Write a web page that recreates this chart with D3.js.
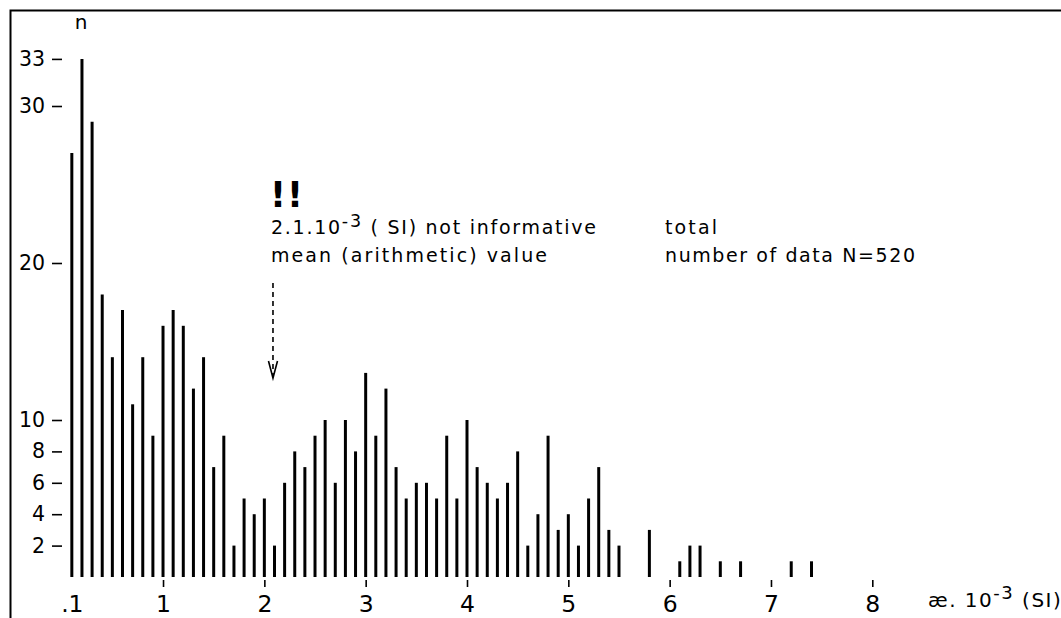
<!DOCTYPE html>
<html><head><meta charset="utf-8">
<script src="https://cdn.jsdelivr.net/npm/d3@7"></script>
<style>
html,body{margin:0;padding:0;background:#fff;}
svg{display:block;font-family:"DejaVu Sans",sans-serif;}
</style></head>
<body><svg id="c" width="1061" height="618"></svg>
<script>
// ---- data ----
const bins = [0.1,0.2,0.3,0.4,0.5,0.6,0.7,0.8,0.9,1.0,
              1.1,1.2,1.3,1.4,1.5,1.6,1.7,1.8,1.9,2.0,
              2.1,2.2,2.3,2.4,2.5,2.6,2.7,2.8,2.9,3.0,
              3.1,3.2,3.3,3.4,3.5,3.6,3.7,3.8,3.9,4.0,
              4.1,4.2,4.3,4.4,4.5,4.6,4.7,4.8,4.9,5.0,
              5.1,5.2,5.3,5.4,5.5,5.8,6.1,6.2,6.3,6.5,6.7,7.2,7.4];
const counts = [27,33,29,18,14,17,11,14,9,16,
                17,16,12,14,7,9,2,5,4,5,
                2,6,8,7,9,10,6,10,8,13,
                9,12,7,5,6,6,5,9,5,10,
                7,6,5,6,8,2,4,9,3,4,
                2,5,7,3,2,3,1,2,2,1,1,1,1];
const yTicks = [2,4,6,8,10,20,30,33];
const xTicks = [0.1,1,2,3,4,5,6,7,8];
const xTickLabels = [".1","1","2","3","4","5","6","7","8"];
const yTitle = "n";
const xTitle = ["æ. 10", "-3", " (SI)"];
const noteBang = "!!";
const noteLine1 = ["2.1.10", "-3", " ( SI) not informative"];
const noteLine2 = "mean (arithmetic) value";
const totalLine1 = "total";
const totalLine2 = "number of data N=520";
const meanValue = 2.1;

// ---- drawing ----
const svg = d3.select("#c");
const x = d3.scaleLinear().domain([0, 8]).range([61.7, 872.3]);
const y = d3.scaleLinear().domain([0, 33]).range([577, 58.9]);
const FONT = "DejaVu Sans";

svg.append("rect").attr("width", 1061).attr("height", 618).attr("fill", "#fff");
svg.append("path").attr("d", "M10.5,618V10.5H1061")
  .attr("fill", "none").attr("stroke", "#000").attr("stroke-width", 2);

const data = bins.map((b, i) => ({ b: b, n: counts[i] }));
svg.append("g").selectAll("line").data(data).join("line")
  .attr("x1", d => x(d.b)).attr("x2", d => x(d.b))
  .attr("y1", y(0)).attr("y2", d => y(d.n))
  .attr("stroke", "#000").attr("stroke-width", 3);

// y axis
const gy = svg.append("g").attr("transform", "translate(62,0)")
  .call(d3.axisLeft(y).tickValues(yTicks).tickSize(10).tickPadding(7));
gy.attr("font-size", 20.5).attr("font-family", FONT);
gy.select(".domain").remove();
gy.selectAll(".tick line").attr("stroke", "#000").attr("stroke-width", 1.6);
gy.selectAll(".tick text").attr("fill", "#000");

// x axis
const gx = svg.append("g").attr("transform", "translate(0,580)")
  .call(d3.axisBottom(x).tickValues(xTicks)
    .tickFormat(d => xTickLabels[xTicks.indexOf(d)]).tickSize(7));
gx.attr("font-size", 23.5).attr("font-family", FONT);
gx.select(".domain").remove();
gx.selectAll(".tick line").attr("stroke", "#000").attr("stroke-width", 1.6)
  .attr("opacity", d => d < 1 ? 0 : 1);
gx.selectAll(".tick text").attr("fill", "#000").attr("y", 32).attr("dy", 0);

// titles
svg.append("text").attr("x", 81).attr("y", 29).attr("text-anchor", "middle")
  .attr("font-size", 20).text(yTitle);

const xt = svg.append("text").attr("x", 928).attr("y", 607).attr("font-size", 20)
  .attr("letter-spacing", 1.5);
xt.append("tspan").text(xTitle[0]);
xt.append("tspan").attr("dy", -8).attr("font-size", 18).text(xTitle[1]);
xt.append("tspan").attr("dy", 8).text(xTitle[2]);

// annotation
svg.append("text").attr("x", 270).attr("y", 207).attr("font-size", 35)
  .attr("font-weight", "bold").attr("letter-spacing", 1).text(noteBang);

const l1 = svg.append("text").attr("x", 271).attr("y", 234).attr("font-size", 19)
  .attr("textLength", 325).attr("lengthAdjust", "spacing");
l1.append("tspan").text(noteLine1[0]);
l1.append("tspan").attr("dy", -7).attr("font-size", 17.5).text(noteLine1[1]);
l1.append("tspan").attr("dy", 7).text(noteLine1[2]);

svg.append("text").attr("x", 271).attr("y", 262).attr("font-size", 19)
  .attr("textLength", 276).attr("lengthAdjust", "spacing").text(noteLine2);

svg.append("text").attr("x", 665).attr("y", 234).attr("font-size", 19)
  .attr("textLength", 52).attr("lengthAdjust", "spacing").text(totalLine1);
svg.append("text").attr("x", 665).attr("y", 262).attr("font-size", 19)
  .attr("textLength", 250).attr("lengthAdjust", "spacing").text(totalLine2);

// dashed arrow to mean
const ax = x(meanValue) - 1.5;
svg.append("line").attr("x1", ax).attr("x2", ax).attr("y1", 283).attr("y2", 377)
  .attr("stroke", "#000").attr("stroke-width", 1.6).attr("stroke-dasharray", "5,4");
svg.append("path").attr("d", `M${ax - 4.5},361L${ax},378L${ax + 4.5},361`)
  .attr("fill", "none").attr("stroke", "#000").attr("stroke-width", 1.6);
</script>
</body></html>
